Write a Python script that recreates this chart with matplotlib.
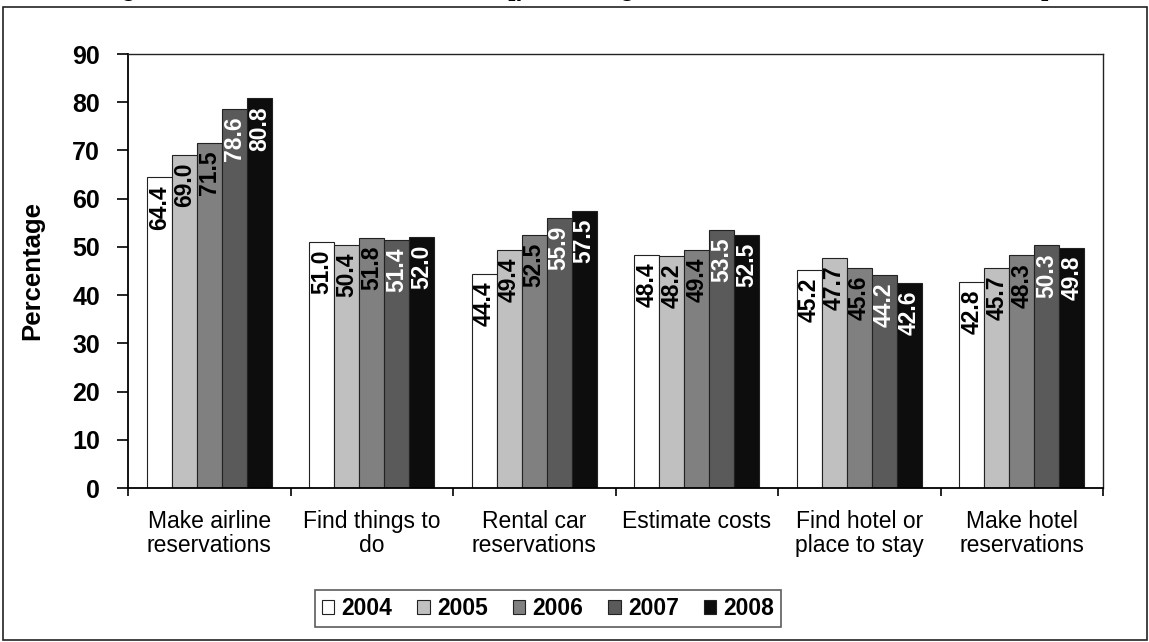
import matplotlib
matplotlib.use("Agg")
import matplotlib.pyplot as plt
import numpy as np
from matplotlib.patches import Rectangle

plt.rcParams['font.family'] = ['Liberation Sans', 'DejaVu Sans']

categories = ["Make airline\nreservations", "Find things to\ndo", "Rental car\nreservations",
              "Estimate costs", "Find hotel or\nplace to stay", "Make hotel\nreservations"]
years = ["2004", "2005", "2006", "2007", "2008"]
values = {
    "2004": [64.4, 51.0, 44.4, 48.4, 45.2, 42.8],
    "2005": [69.0, 50.4, 49.4, 48.2, 47.7, 45.7],
    "2006": [71.5, 51.8, 52.5, 49.4, 45.6, 48.3],
    "2007": [78.6, 51.4, 55.9, 53.5, 44.2, 50.3],
    "2008": [80.8, 52.0, 57.5, 52.5, 42.6, 49.8],
}
colors = ["#ffffff", "#c0c0c0", "#808080", "#5a5a5a", "#0d0d0d"]
label_colors = ["black", "black", "black", "white", "white"]
yticks = list(range(0, 100, 10))

fig = plt.figure(figsize=(11.49, 6.42), dpi=100)
ax = fig.add_axes([128/1149, 1-488/642, (1103-128)/1149, (488-54)/642])

n = len(years)
bw = 0.154
x = np.arange(len(categories))
for i, yr in enumerate(years):
    xs = x + (i - (n-1)/2) * bw
    bars = ax.bar(xs, values[yr], width=bw, color=colors[i], edgecolor="#222222",
                  linewidth=0.8, label=yr, zorder=2)
    for b, v in zip(bars, values[yr]):
        ax.text(b.get_x() + b.get_width()/2, v - 1.6, f"{v:.1f}", rotation=90,
                ha="center", va="top", fontsize=16.5, fontweight="bold",
                color=label_colors[i], zorder=3)

ax.set_xlim(-0.5, len(categories) - 0.5)
ax.set_ylim(0, 90)
ax.set_yticks(yticks)
ax.set_yticklabels([str(t) for t in yticks], fontsize=18, fontweight="bold")
ax.set_xticks(np.arange(-0.5, len(categories), 1.0))
ax.set_xticklabels([])
ax.set_xticks(x, minor=True)
ax.set_xticklabels(categories, minor=True, fontsize=16.5, linespacing=1.05)
ax.tick_params(axis="x", which="minor", length=0, pad=16)
ax.tick_params(axis="x", which="major", length=6, width=1.2, direction="out")
ax.tick_params(axis="y", length=8, width=1.2, direction="out", pad=12)
for s in ["top", "right"]:
    ax.spines[s].set_linewidth(1.0)
    ax.spines[s].set_color("#222222")
ax.spines["left"].set_linewidth(1.3)
ax.spines["bottom"].set_linewidth(1.3)
ax.set_ylabel("Percentage", fontsize=18.5, fontweight="bold", labelpad=20)

leg = ax.legend(loc="center", bbox_to_anchor=(548/1149, 1-608.5/642),
                bbox_transform=fig.transFigure, ncol=5, frameon=True,
                fancybox=False, edgecolor="#333333", handlelength=0.55,
                handleheight=0.55, handletextpad=0.3, columnspacing=1.1,
                prop={"weight": "bold", "size": 16.5}, borderpad=0.3)
leg.get_frame().set_linewidth(1.2)

fig.patches.append(Rectangle((3/1149, 2/642), 1144/1149, 633/642, transform=fig.transFigure,
                             fill=False, edgecolor="#222222", linewidth=1.2))
fig.text(0.5, 1.0 + 11/642, "Figure 9. Internet Use Before Visit [percentage of visitors who used the Internet]",
         ha="center", va="center", fontsize=18, fontweight="bold")

fig.savefig("out.png", dpi=100)
